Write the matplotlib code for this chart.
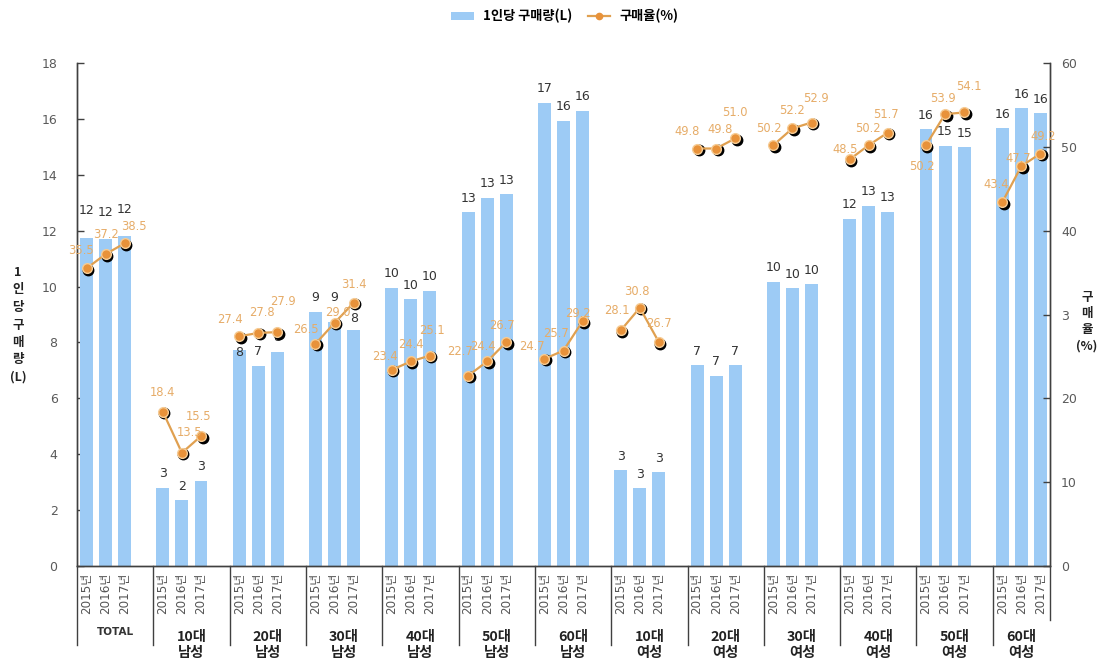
import matplotlib
matplotlib.use("Agg")
import matplotlib.pyplot as plt
from matplotlib.patches import Patch
from matplotlib.lines import Line2D
import matplotlib.transforms as mtransforms

plt.rcParams['font.family'] = ['DejaVu Sans', 'Noto Sans CJK KR']

# ---- data -------------------------------------------------------------
groups = ['TOTAL', '10대\n남성', '20대\n남성', '30대\n남성', '40대\n남성',
          '50대\n남성', '60대\n남성', '10대\n여성', '20대\n여성', '30대\n여성',
          '40대\n여성', '50대\n여성', '60대\n여성']
years = ['2015년', '2016년', '2017년']

# per-capita purchase volume (L)
volume = [
    [11.74, 11.70, 11.80],
    [2.80, 2.36, 3.05],
    [7.73, 7.17, 7.67],
    [9.08, 8.73, 8.45],
    [9.95, 9.55, 9.85],
    [12.66, 13.18, 13.30],
    [16.58, 15.94, 16.30],
    [3.43, 2.79, 3.36],
    [7.19, 6.80, 7.19],
    [10.18, 9.94, 10.09],
    [12.42, 12.90, 12.68],
    [15.63, 15.03, 14.98],
    [15.66, 16.38, 16.20],
]

# purchase rate (%)
rate = [
    [35.5, 37.2, 38.5],
    [18.4, 13.5, 15.5],
    [27.4, 27.8, 27.9],
    [26.5, 29.0, 31.4],
    [23.4, 24.4, 25.1],
    [22.7, 24.4, 26.7],
    [24.7, 25.7, 29.2],
    [28.1, 30.8, 26.7],
    [49.8, 49.8, 51.0],
    [50.2, 52.2, 52.9],
    [48.5, 50.2, 51.7],
    [50.2, 53.9, 54.1],
    [43.4, 47.7, 49.2],
]

left_ticks = list(range(0, 19, 2))
right_ticks = list(range(0, 61, 10))
right_tick_labels = ['0', '10', '20', '3', '40', '50', '60']

# ---- styling ----------------------------------------------------------
BAR_C = '#9DCBF5'
LINE_C = '#E0A050'
MARK_C = '#E8923A'
MARK_EDGE = '#F6CC95'
RATE_TXT = '#E6AC68'
AXIS_C = '#404040'
TICK_TXT = '#5A5A5A'
SLOTS = 4          # three bars plus a gap per group
BAR_W = 0.68

# label placement for the rate values (pixels from the marker)
rate_off = [
    [(-6, 18), (0, 20), (9, 17)],
    [(0, 19), (8, 20), (-2, 20)],
    [(-9, 17), (4, 20), (6, 31)],
    [(-10, 14), (3, 10), (0, 18)],
    [(-7, 13), (0, 17), (2, 25)],
    [(-8, 24), (-4, 15), (-4, 17)],
    [(-12, 12), (-8, 17), (-5, 8)],
    [(-4, 20), (-3, 16), (0, 19)],
    [(-10, 17), (4, 19), (0, 26)],
    [(-4, 17), (0, 18), (4, 24)],
    [(-4, 10), (-1, 17), (-2, 18)],
    [(-4, -21), (-2, 16), (5, 26)],
    [(-6, 18), (-3, 8), (3, 17)],
]
vol_off_default = 14
vol_off = {(0, 0): 27, (0, 1): 27, (0, 2): 27, (2, 0): -3,
           (3, 0): 15, (3, 1): 25, (3, 2): 11}

fig = plt.figure(figsize=(11.04, 6.59), dpi=100)
W, H = 1104, 659
ax = fig.add_axes([77 / W, 93 / H, 973 / W, 503 / H])
ax2 = ax.twinx()

xs_all = []
for g, vals in enumerate(volume):
    xs = [g * SLOTS + i for i in range(3)]
    xs_all.extend(xs)
    ax.bar(xs, vals, width=BAR_W, color=BAR_C, zorder=2)
    for i, (x, v) in enumerate(zip(xs, vals)):
        ax.annotate(f'{v:.0f}', (x, v), xytext=(0, vol_off.get((g, i), vol_off_default)),
                    textcoords='offset pixels', ha='center', va='center',
                    fontsize=9, color='#333333', zorder=3)

# rate lines, one short segment per group, with dark drop-shadow markers
shadow = mtransforms.offset_copy(ax2.transData, fig=fig, x=1.5, y=-1.5, units='dots')
for g, vals in enumerate(rate):
    xs = [g * SLOTS + i for i in range(3)]
    ax2.plot(xs, vals, color='black', lw=0, marker='o', ms=7.5,
             transform=shadow, zorder=3)
    ax2.plot(xs, vals, color=LINE_C, lw=1.6, marker='o', ms=7,
             mfc=MARK_C, mec=MARK_EDGE, mew=1.0, zorder=4)
    for i, (x, r) in enumerate(zip(xs, vals)):
        dx, dy = rate_off[g][i]
        ax2.annotate(f'{r:.1f}', (x, r), xytext=(dx, dy), textcoords='offset pixels',
                     ha='center', va='center', fontsize=8.3, color=RATE_TXT, zorder=5)

# axes limits and ticks
n_slots = SLOTS * len(groups) - 1
ax.set_xlim(-0.5, n_slots - 0.5)
ax.set_ylim(0, 18)
ax2.set_ylim(0, 60)

ax.set_yticks(left_ticks)
ax.set_yticklabels([str(t) for t in left_ticks])
ax2.set_yticks(right_ticks)
ax2.set_yticklabels(right_tick_labels)
ax.tick_params(axis='y', direction='in', length=5, width=1, color=AXIS_C,
               pad=14, labelsize=9, labelcolor=TICK_TXT)
ax2.tick_params(axis='y', direction='in', length=5, width=1, color=AXIS_C,
                pad=8, labelsize=9, labelcolor=TICK_TXT)

ax.set_xticks(xs_all)
ax.set_xticklabels(years * len(groups), rotation=90, fontsize=8.6, color='#555555',
                   va='top')
ax.tick_params(axis='x', length=0, pad=5)

for a in (ax, ax2):
    a.spines['top'].set_visible(False)
    for s in ('left', 'right', 'bottom'):
        a.spines[s].set_color(AXIS_C)
        a.spines[s].set_linewidth(1)

# group separators below the axis and group captions
blend = mtransforms.blended_transform_factory(ax.transData, ax.transAxes)
bounds = [-0.5] + [g * SLOTS + 3.5 for g in range(len(groups) - 1)] + [n_slots - 0.5]
for k, b in enumerate(bounds):
    y_end = -0.108 if k == len(bounds) - 1 else -0.157
    ax.add_line(Line2D([b, b], [0, y_end], transform=blend, color=AXIS_C,
                       lw=1, clip_on=False))

for g, name in enumerate(groups):
    cx = (bounds[g] + bounds[g + 1]) / 2
    if name == 'TOTAL':
        ax.text(cx, -0.131, name, transform=blend, ha='center', va='center',
                fontsize=7.5, fontweight='bold', color='#333333')
    else:
        ax.text(cx, -0.157, name, transform=blend, ha='center', va='center',
                fontsize=10.3, fontweight='bold', color='#222222', linespacing=1.1,
                family=['Noto Sans CJK KR', 'DejaVu Sans'])

# axis titles, stacked vertically
fig.text(18 / W, 1 - 325 / H, '1\n인\n당\n구\n매\n량\n(L)', ha='center', va='center',
         fontsize=9, fontweight='bold', linespacing=1.45, color='#222222',
         family=['Noto Sans CJK KR', 'DejaVu Sans'])
fig.text(1087 / W, 1 - 322 / H, '구\n매\n율\n(%)', ha='center', va='center',
         fontsize=9, fontweight='bold', linespacing=1.3, color='#222222',
         family=['Noto Sans CJK KR', 'DejaVu Sans'])

# legend
handles = [Patch(facecolor=BAR_C, edgecolor='none'),
           Line2D([], [], color=LINE_C, lw=1.6, marker='o', ms=4.5, mfc=MARK_C,
                  mec=MARK_C)]
leg = fig.legend(handles, ['1인당 구매량(L)', '구매율(%)'], loc='center',
                 bbox_to_anchor=(565 / W, 1 - 16 / H), ncol=2, frameon=False,
                 handlelength=1.7, handleheight=0.55, handletextpad=0.7,
                 columnspacing=1.2,
                 prop={'family': ['Noto Sans CJK KR', 'DejaVu Sans'],
                       'weight': 'bold', 'size': 9.5})

fig.savefig('out.png', dpi=100)
